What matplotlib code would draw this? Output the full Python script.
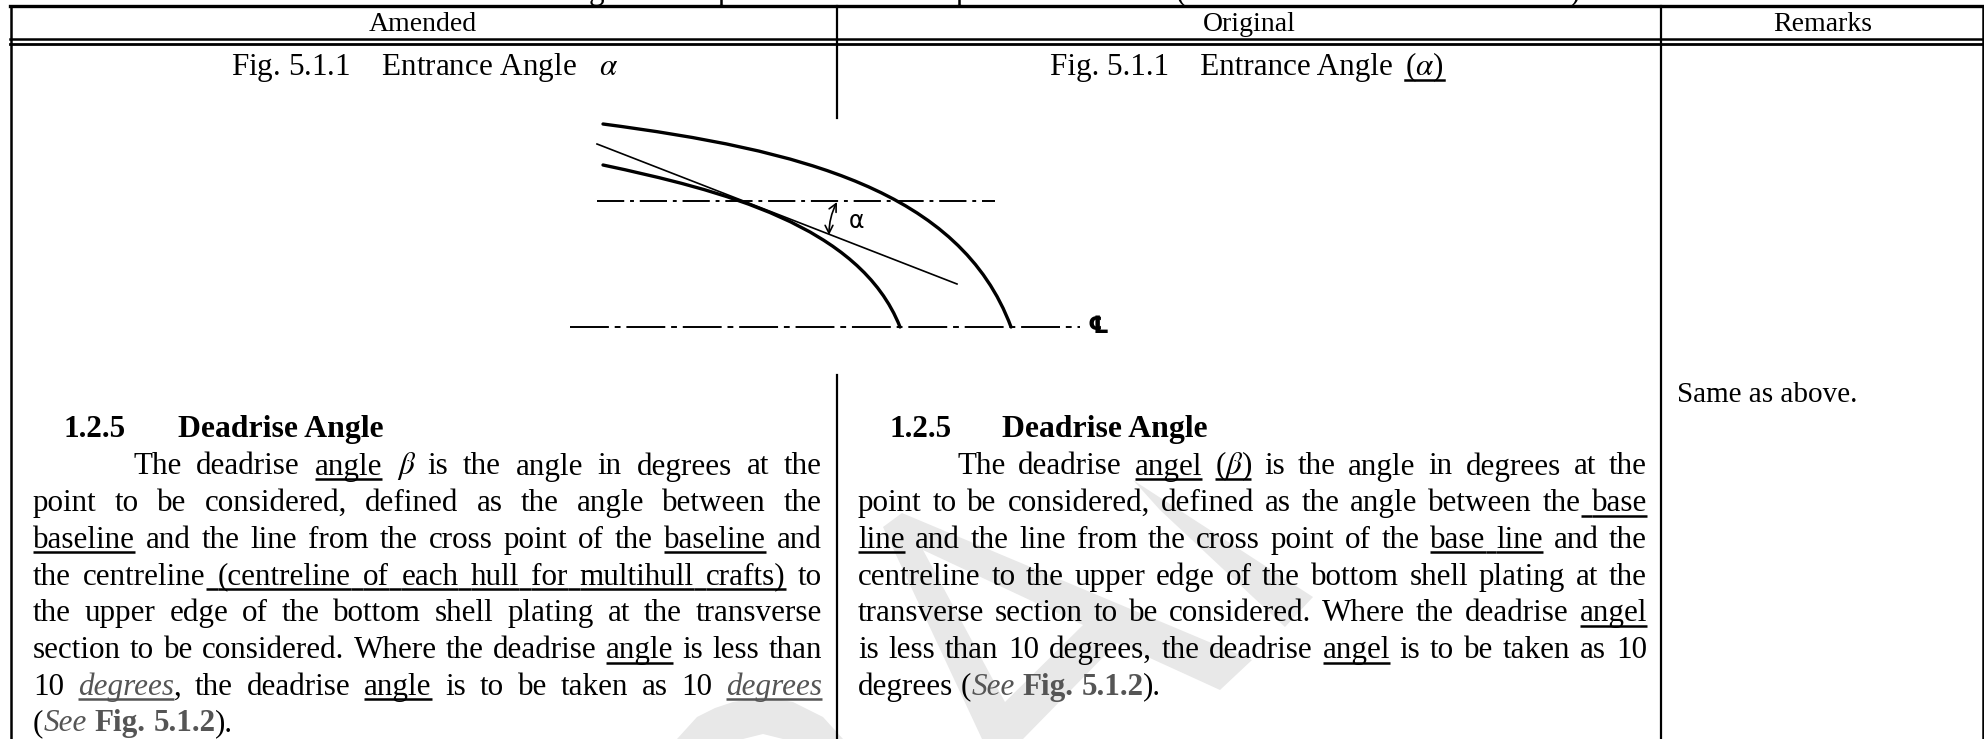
import matplotlib
matplotlib.use("Agg")
import matplotlib.pyplot as plt
from matplotlib.patches import Polygon, FancyArrowPatch, PathPatch
from matplotlib.path import Path

W, H = 1984, 739
FONT = "Liberation Serif"
SIZE = 22.4

header_labels = ["Amended", "Original", "Remarks"]
header_x = [423, 1249, 1823]
fig_caption = "Fig. 5.1.1\u2003Entrance Angle "
remark_text = "Same as above."
section_no = "1.2.5"
section_title = "Deadrise Angle"

# bits of the title line that stick out above the top rule
cut_title_glyphs = ["g", "p", "p", "(", ")"]
cut_title_x = [589, 718, 956, 1176, 1570]

# each line is a list of runs: (text, style), style n=normal u=underline g=gray under+italic b=gray bold s=gray italic m=math
amended_lines = [
    [("The deadrise ", "n"), ("angle", "u"), (" ", "n"), ("$\\beta$", "m"), (" is the angle in degrees at the", "n")],
    [("point to be considered, defined as the angle between the", "n")],
    [("baseline", "u"), (" and the line from the cross point of the ", "n"), ("baseline", "u"), (" and", "n")],
    [("the centreline", "n"), (" (centreline of each hull for multihull crafts)", "u"), (" to", "n")],
    [("the upper edge of the bottom shell plating at the transverse", "n")],
    [("section to be considered. Where the deadrise ", "n"), ("angle", "u"), (" is less than", "n")],
    [("10 ", "n"), ("degrees", "g"), (", the deadrise ", "n"), ("angle", "u"), (" is to be taken as 10 ", "n"), ("degrees", "g")],
    [("(", "n"), ("See", "s"), (" ", "n"), ("Fig. 5.1.2", "b"), (").", "n")],
]
original_lines = [
    [("The deadrise ", "n"), ("angel", "u"), (" ", "n"), ("($\\beta$)", "um"), (" is the angle in degrees at the", "n")],
    [("point to be considered, defined as the angle between the", "n"), (" base", "u")],
    [("line", "u"), (" and the line from the cross point of the ", "n"), ("base line", "u"), (" and the", "n")],
    [("centreline to the upper edge of the bottom shell plating at the", "n")],
    [("transverse section to be considered. Where the deadrise ", "n"), ("angel", "u")],
    [("is less than 10 degrees, the deadrise ", "n"), ("angel", "u"), (" is to be taken as 10", "n")],
    [("degrees (", "n"), ("See", "s"), (" ", "n"), ("Fig. 5.1.2", "b"), (").", "n")],
]
# lines that stop short of the right margin
last_amended = 7
last_original = 6

# figure drawing in pixels (bezier control points)
outer_ctrl = [(603, 124), (800, 150), (960, 190), (1011, 327)]
inner_ctrl = [(603, 165), (720, 190), (860, 225), (900, 327)]
tangent_x = [597, 957]
tangent_y = [144, 284]
upper_dash_x = [597, 995]
upper_dash_y = [201, 201]
center_dash_x = [570, 1080]
center_dash_y = [327, 327]

# watermark outlines
wm_curve_x = [677, 697, 715, 733, 763, 793, 823, 843, 783, 763, 743]
wm_curve_y = [739, 717, 708, 702, 697, 702, 717, 739, 739, 734, 739]
wm_a_x = [883, 902, 1252, 1220, 1117, 1023, 982]
wm_a_y = [527, 513, 660, 690, 643, 739, 739]
wm_hole_x = [923, 1005, 1083]
wm_hole_y = [550, 702, 625]
wm_bar_x = [1133, 1313, 1285, 1160]
wm_bar_y = [480, 597, 627, 510]

fig = plt.figure(figsize=(W / 100, H / 100), dpi=100)
ax = fig.add_axes([0, 0, 1, 1])
ax.set_xlim(0, W)
ax.set_ylim(H, 0)
ax.axis("off")
renderer = fig.canvas.get_renderer()

# watermark sits under the text, A shape drawn with its triangular hole
a_pts = list(zip(wm_a_x, wm_a_y)) + [(wm_a_x[0], wm_a_y[0])] + list(zip(wm_hole_x, wm_hole_y)) + [(wm_hole_x[0], wm_hole_y[0])]
for pts in [list(zip(wm_curve_x, wm_curve_y)), a_pts, list(zip(wm_bar_x, wm_bar_y))]:
    ax.add_patch(Polygon(pts, closed=True, facecolor="#e8e8e8", edgecolor="none", zorder=0))


def style_kw(style):
    kw = dict(family=FONT, fontsize=SIZE, color="black", va="baseline", ha="left", math_fontfamily="stix")
    if style == "b":
        kw["weight"] = "bold"
    if style in ("g", "s"):
        kw["style"] = "italic"
    if style in ("g", "s", "b"):
        kw["color"] = "#555555"
    return kw


def width_of(text, style):
    # keep spaces at the ends of a run in the measured width
    t = ax.text(0, 0, "|" + text + "|", **style_kw(style))
    w = t.get_window_extent(renderer).width
    t.set_text("||")
    w -= t.get_window_extent(renderer).width
    t.remove()
    return w


def draw_line(runs, x0, x1, y, justify):
    words = []
    for text, style in runs:
        pieces = text.split(" ") if "$" not in text else [text]
        for k, p in enumerate(pieces):
            if k > 0:
                words.append((" ", style))
            if p:
                words.append((p, style))
    total = sum(width_of(t, s) for t, s in words)
    n_space = sum(1 for t, s in words if t == " ")
    extra = (x1 - x0 - total) / n_space if justify and n_space else 0
    x = x0
    for t, s in words:
        w = width_of(t, s)
        if t == " ":
            w += extra
        else:
            ax.text(x, y, t, **style_kw(s))
        if s in ("u", "g", "um"):
            col = "#555555" if s == "g" else "black"
            ax.plot([x, x + w], [y + 4.5, y + 4.5], color=col, lw=1.8, solid_capstyle="butt")
        x += w


def draw_block(lines, x0, x1, y0, indent, last):
    for i, runs in enumerate(lines):
        left = x0 + (indent if i == 0 else 0)
        draw_line(runs, left, x1, y0 + i * 36.7, i != last)


def bezier(ctrl, lw):
    path = Path(ctrl, [Path.MOVETO, Path.CURVE4, Path.CURVE4, Path.CURVE4])
    ax.add_patch(PathPatch(path, facecolor="none", edgecolor="black", lw=lw, capstyle="round"))


# cut off title line above the table
for g, gx in zip(cut_title_glyphs, cut_title_x):
    ax.text(gx, -1, g, family=FONT, fontsize=SIZE, va="baseline", clip_on=True)

# table rules
ax.plot([10, W], [6, 6], color="black", lw=2.4, zorder=5)
ax.plot([10, W], [38.5, 38.5], color="black", lw=1.8)
ax.plot([10, W], [43.5, 43.5], color="black", lw=2.0)
ax.plot([11, 11], [6, H], color="black", lw=1.8)
ax.plot([1982.5, 1982.5], [6, H], color="black", lw=1.8)
ax.plot([837, 837], [6, 118], color="black", lw=1.6)
ax.plot([837, 837], [375, H], color="black", lw=1.6)
ax.plot([1661, 1661], [6, H], color="black", lw=1.6)

for label, cx in zip(header_labels, header_x):
    ax.text(cx, 31, label, family=FONT, fontsize=20, ha="center", va="baseline")

ax.text(231, 75, fig_caption + "  $\\alpha$", family=FONT, fontsize=SIZE, math_fontfamily="stix", va="baseline")
ax.text(1050, 75, fig_caption, family=FONT, fontsize=SIZE, va="baseline")
x_par = 1050 + width_of(fig_caption, "n") + 4
ax.text(x_par, 75, "($\\alpha$)", family=FONT, fontsize=SIZE, math_fontfamily="stix", va="baseline")
ax.plot([x_par, x_par + width_of("($\\alpha$)", "n") + 2], [80, 80], color="black", lw=1.8)

# hull sketch
bezier(outer_ctrl, 2.4)
bezier(inner_ctrl, 2.4)
ax.plot(tangent_x, tangent_y, color="black", lw=1.2)
ax.plot(upper_dash_x, upper_dash_y, color="black", lw=1.4, dashes=(14, 3, 2, 3))
ax.plot(center_dash_x, center_dash_y, color="black", lw=1.4, dashes=(20, 3, 3, 3))
ax.add_patch(FancyArrowPatch((837, 202), (829, 235), arrowstyle="<->", mutation_scale=14,
                             connectionstyle="arc3,rad=0.12", color="black", lw=1.2, shrinkA=0, shrinkB=0))
ax.text(857, 221, "\u03b1", family="DejaVu Sans", fontsize=17, ha="center", va="center")
ax.text(1098, 326, "\u2104", family="DejaVu Sans", fontsize=17, ha="center", va="center", weight="bold")

# section text
ax.text(64, 437, section_no, family=FONT, fontsize=SIZE, weight="bold", va="baseline")
ax.text(178, 437, section_title, family=FONT, fontsize=22.9, weight="bold", va="baseline")
ax.text(889, 437, section_no, family=FONT, fontsize=SIZE, weight="bold", va="baseline")
ax.text(1002, 437, section_title, family=FONT, fontsize=22.9, weight="bold", va="baseline")

draw_block(amended_lines, 33, 822, 474.5, 100, last_amended)
draw_block(original_lines, 858, 1647, 474.5, 99, last_original)

ax.text(1677, 402, remark_text, family=FONT, fontsize=21, va="baseline")

fig.savefig("out.png", dpi=100)
